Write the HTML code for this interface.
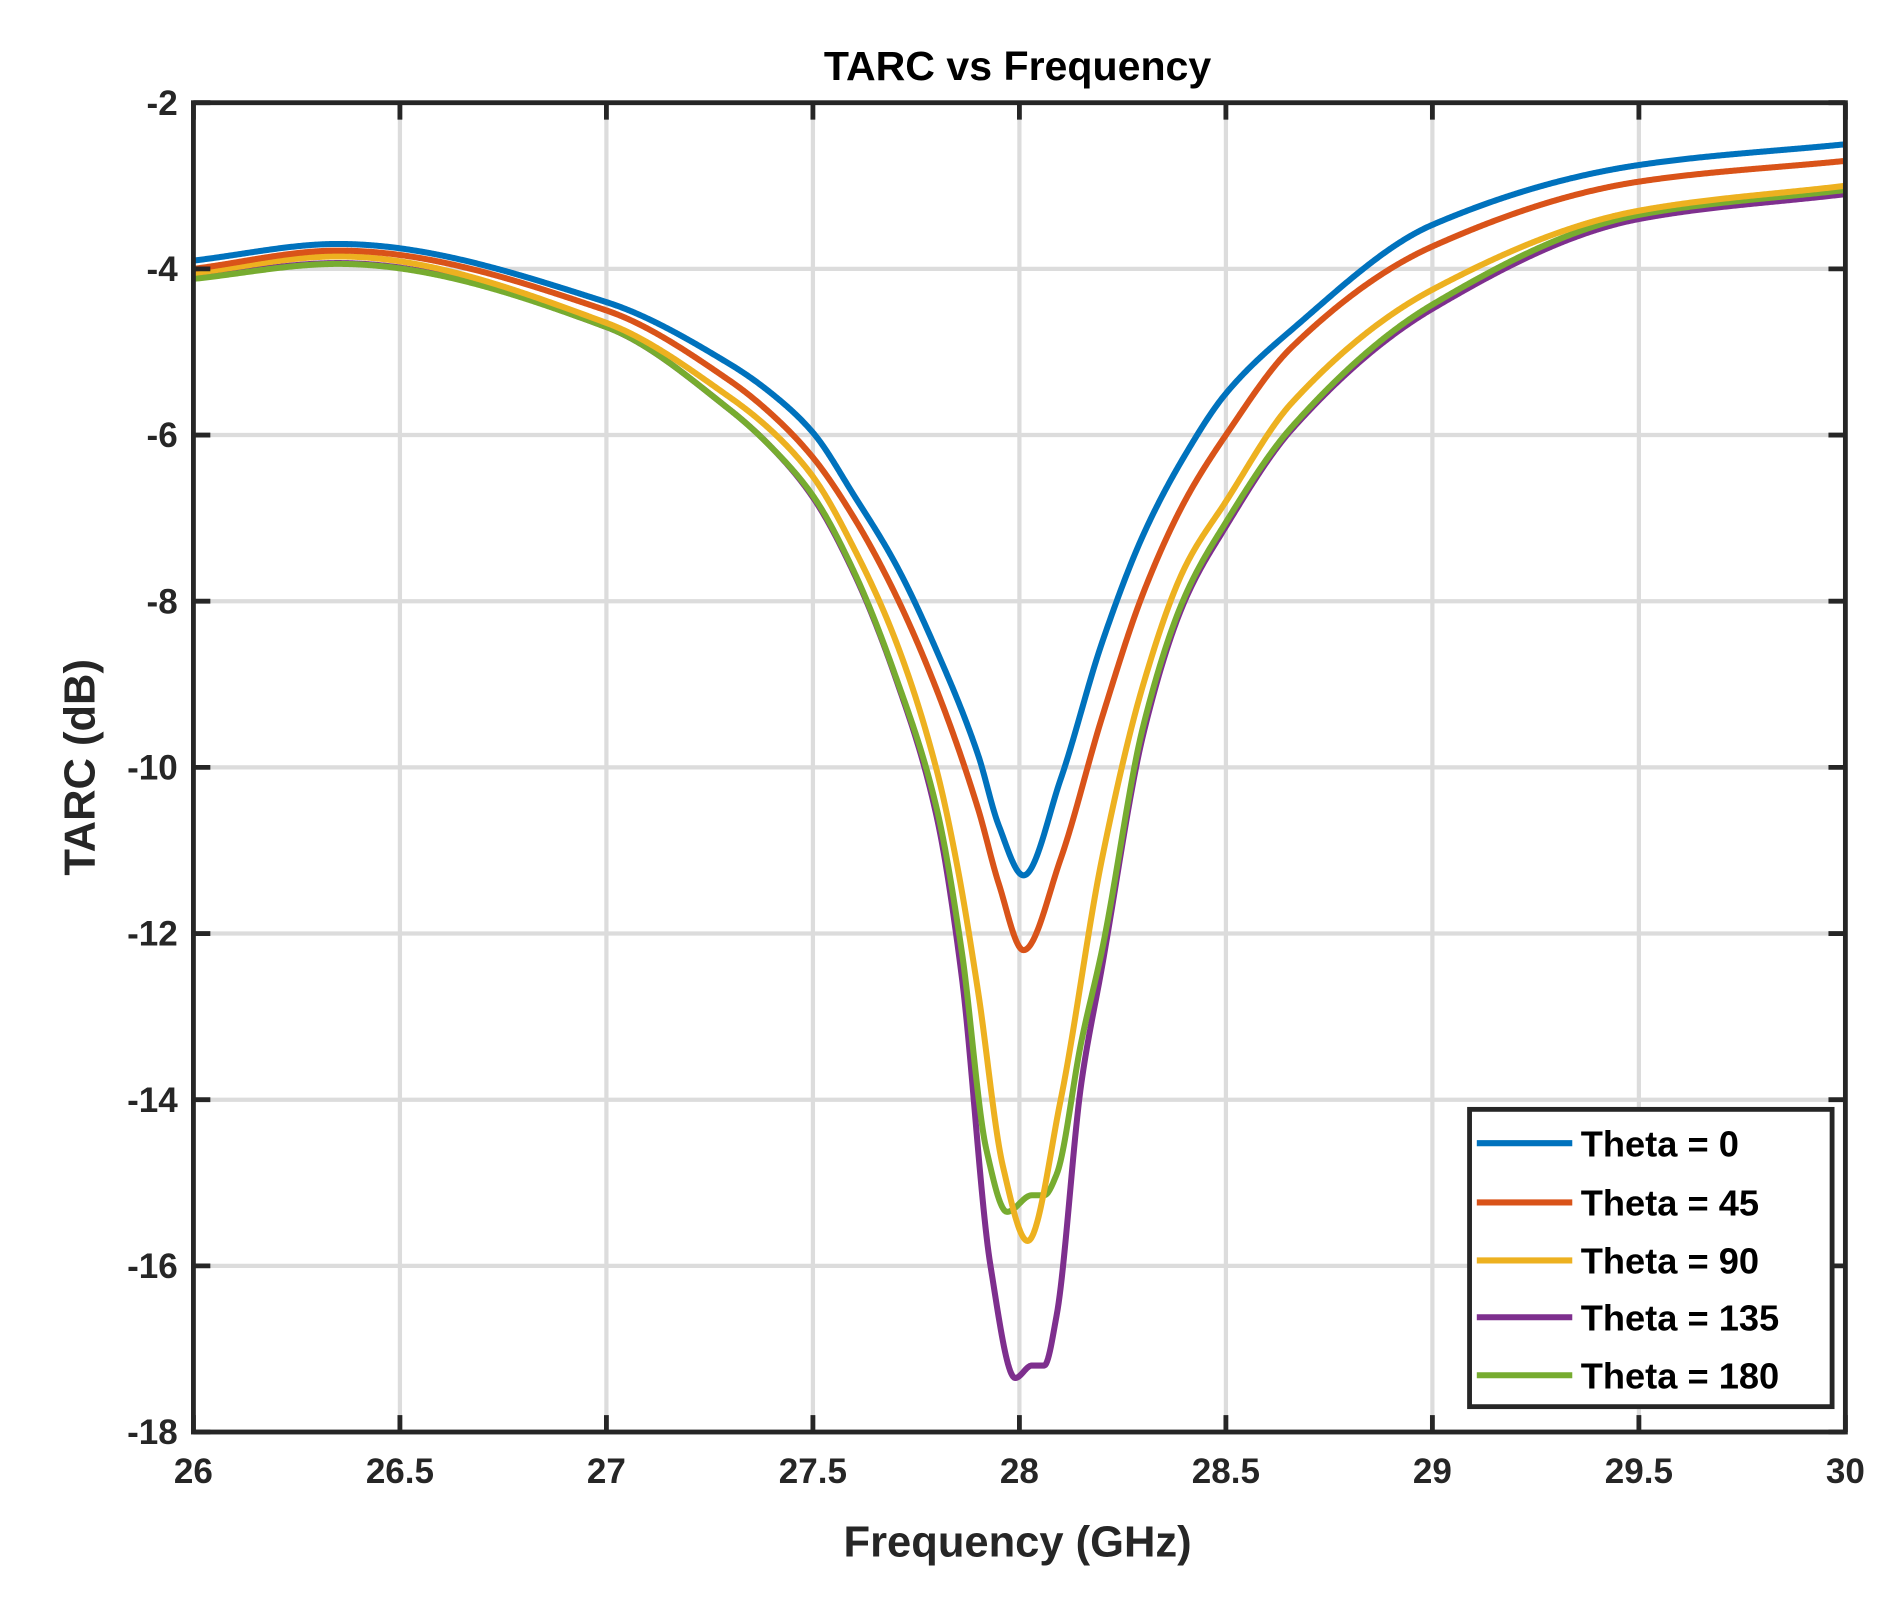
<!DOCTYPE html>
<html><head><meta charset="utf-8"><style>
html,body{margin:0;padding:0;background:#fff;}
svg{display:block;}
text{font-family:"Liberation Sans",Arial,sans-serif;font-weight:bold;}
</style></head><body>
<svg id="chart" width="1895" height="1600" viewBox="0 0 1568 1324" xmlns="http://www.w3.org/2000/svg">
<rect width="1568" height="1324" fill="#fff"/>
<g id="grid"></g>
<g id="series"></g>
<g id="axes"></g>
<text x="842" y="66" font-size="34" text-anchor="middle" fill="#000">TARC vs Frequency</text>
<text x="842" y="1288" font-size="36" text-anchor="middle" fill="#262626">Frequency (GHz)</text>
<text transform="translate(78,635) rotate(-90)" font-size="36" text-anchor="middle" fill="#262626">TARC (dB)</text>
<g id="legend"></g>
</svg>
<script>
const xTicks = [26,26.5,27,27.5,28,28.5,29,29.5,30];
const xTickLabels = ["26","26.5","27","27.5","28","28.5","29","29.5","30"];
const yTicks = [-2,-4,-6,-8,-10,-12,-14,-16,-18];
const yTickLabels = ["-2","-4","-6","-8","-10","-12","-14","-16","-18"];
const seriesNames = ["Theta = 0","Theta = 45","Theta = 90","Theta = 135","Theta = 180"];
const seriesColors = ["#0072BD","#D95319","#EDB120","#7E2F8E","#77AC30"];
const freq0 = [26,26.35,27,27.3,27.4,27.5,27.6,27.7,27.8,27.9,27.95,28.01,28.1,28.2,28.3,28.4,28.5,28.66,29,29.5,30];
const tarc0 = [-3.9,-3.7,-4.4,-5.15,-5.5,-5.97,-6.73,-7.55,-8.6,-9.85,-10.7,-11.3,-10.14,-8.5,-7.2,-6.25,-5.5,-4.73,-3.47,-2.75,-2.5];
const freq1 = [26,26.35,27,27.3,27.4,27.5,27.6,27.7,27.8,27.9,27.95,28.01,28.1,28.2,28.3,28.4,28.5,28.66,29,29.5,30];
const tarc1 = [-4.0,-3.78,-4.5,-5.35,-5.75,-6.27,-7.0,-7.92,-9.07,-10.5,-11.4,-12.2,-11.1,-9.4,-7.9,-6.8,-6.0,-4.94,-3.73,-2.95,-2.7];
const freq2 = [26,26.35,27,27.3,27.4,27.5,27.6,27.7,27.8,27.85,27.9,27.96,28.02,28.1,28.2,28.3,28.4,28.5,28.66,29,29.5,30];
const tarc2 = [-4.05,-3.85,-4.65,-5.55,-5.95,-6.5,-7.37,-8.47,-10.04,-11.2,-12.7,-14.8,-15.7,-14.0,-11.1,-9.0,-7.6,-6.8,-5.61,-4.25,-3.3,-3.0];
const freq3 = [26,26.35,27,27.3,27.4,27.5,27.6,27.7,27.8,27.86,27.93,27.99,28.03,28.06,28.09,28.15,28.2,28.3,28.4,28.5,28.66,29,29.5,30];
const tarc3 = [-4.1,-3.93,-4.7,-5.7,-6.15,-6.75,-7.67,-8.92,-10.6,-12.5,-16.0,-17.35,-17.2,-17.2,-16.6,-13.8,-12.4,-9.6,-8.0,-7.1,-5.93,-4.48,-3.4,-3.1];
const freq4 = [26,26.35,27,27.3,27.4,27.5,27.6,27.7,27.8,27.86,27.92,27.97,28.03,28.06,28.09,28.15,28.2,28.3,28.4,28.5,28.66,29,29.5,30];
const tarc4 = [-4.12,-3.94,-4.7,-5.7,-6.15,-6.73,-7.65,-8.9,-10.5,-12.2,-14.6,-15.35,-15.15,-15.15,-14.9,-13.3,-12.2,-9.5,-7.95,-7.05,-5.9,-4.43,-3.35,-3.05];
const freqs = [freq0,freq1,freq2,freq3,freq4];
const tarcs = [tarc0,tarc1,tarc2,tarc3,tarc4];

const L=160,R=1527,T=85,B=1185;
function xs(f){return L+(f-26)/(30-26)*(R-L);}
function ys(v){return T+(-2-v)/(16)*(B-T);}
const NS="http://www.w3.org/2000/svg";
function mk(tag,parent,attrs){const e=document.createElementNS(NS,tag);for(const k in attrs)e.setAttribute(k,attrs[k]);parent.appendChild(e);return e;}

const grid=document.getElementById('grid');
xTicks.forEach((t,i)=>{
  if(i>0&&i<xTicks.length-1){const g=mk('line',grid,{x1:xs(t),x2:xs(t),y1:T,y2:B,stroke:'#dcdcdc','stroke-width':3.5});
  
  }
});
yTicks.forEach((t,i)=>{
  if(i>0&&i<yTicks.length-1){const g=mk('line',grid,{x1:L,x2:R,y1:ys(t),y2:ys(t),stroke:'#dcdcdc','stroke-width':3.5});
  
  }
});

// monotone cubic (Fritsch-Carlson) interpolation, sampled densely
function pathFrom(xa,ya){
  const n=xa.length,d=[],m=new Array(n);
  for(let i=0;i<n-1;i++)d.push((ya[i+1]-ya[i])/(xa[i+1]-xa[i]));
  m[0]=d[0];m[n-1]=d[n-2];
  for(let i=1;i<n-1;i++){
    if(d[i-1]*d[i]<=0)m[i]=0;
    else{const w1=2*(xa[i+1]-xa[i])+(xa[i]-xa[i-1]),w2=(xa[i+1]-xa[i])+2*(xa[i]-xa[i-1]);m[i]=(w1+w2)/(w1/d[i-1]+w2/d[i]);}
  }
  let s='';
  for(let i=0;i<n-1;i++){
    const h=xa[i+1]-xa[i],steps=Math.max(4,Math.ceil(h*400));
    for(let k=(i==0?0:1);k<=steps;k++){
      const t=k/steps,t2=t*t,t3=t2*t;
      const v=(2*t3-3*t2+1)*ya[i]+(t3-2*t2+t)*h*m[i]+(-2*t3+3*t2)*ya[i+1]+(t3-t2)*h*m[i+1];
      s+=(s?'L':'M')+xs(xa[i]+t*h).toFixed(2)+','+ys(v).toFixed(2);
    }
  }
  return s;
}
const sg=document.getElementById('series');
const clip=mk('clipPath',mk('defs',document.getElementById('chart'),{}),{id:'clp'});
mk('rect',clip,{x:L,y:T,width:R-L,height:B-T});
sg.setAttribute('clip-path','url(#clp)');
[3,4,2,1,0].forEach(i=>{
  const p=mk('path',sg,{d:pathFrom(freqs[i],tarcs[i]),fill:'none',stroke:seriesColors[i],'stroke-width':5,'stroke-linejoin':'round'});
  
  
});

const ax=document.getElementById('axes');
const frame=mk('rect',ax,{x:L,y:T,width:R-L,height:B-T,fill:'none',stroke:'#262626','stroke-width':4});


xTicks.forEach((t,i)=>{
  mk('line',ax,{x1:xs(t),x2:xs(t),y1:B,y2:B-14,stroke:'#262626','stroke-width':4});
  mk('line',ax,{x1:xs(t),x2:xs(t),y1:T,y2:T+14,stroke:'#262626','stroke-width':4});
  const tx=mk('text',ax,{x:xs(t),y:B+42,'font-size':29,'text-anchor':'middle',fill:'#262626'});
  tx.textContent=xTickLabels[i];
  
  
});
yTicks.forEach((t,i)=>{
  mk('line',ax,{x1:L,x2:L+14,y1:ys(t),y2:ys(t),stroke:'#262626','stroke-width':4});
  mk('line',ax,{x1:R,x2:R-14,y1:ys(t),y2:ys(t),stroke:'#262626','stroke-width':4});
  const tx=mk('text',ax,{x:L-13,y:ys(t)+10,'font-size':29,'text-anchor':'end',fill:'#262626'});
  tx.textContent=yTickLabels[i];
  
  
});

const lg=document.getElementById('legend');
const box=mk('rect',lg,{x:1216,y:918,width:300,height:246,fill:'#fff',stroke:'#262626','stroke-width':4});


const rowsY=[946,995,1043,1090,1138];
seriesNames.forEach((n,i)=>{
  const y=rowsY[i];
  const ln=mk('line',lg,{x1:1222,x2:1301,y1:y,y2:y,stroke:seriesColors[i],'stroke-width':5});
  
  
  const tx=mk('text',lg,{x:1308,y:y+11,'font-size':30,fill:'#000'});
  tx.textContent=n;
  
  
});
</script>
</body></html>
